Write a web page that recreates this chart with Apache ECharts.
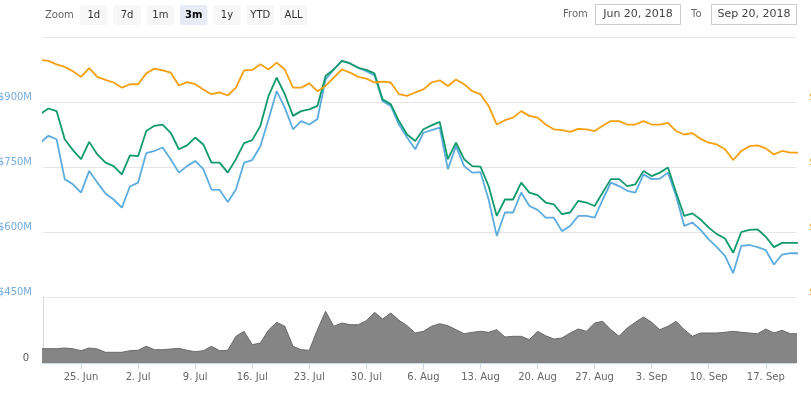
<!DOCTYPE html>
<html><head><meta charset="utf-8">
<script src="https://cdn.jsdelivr.net/npm/echarts@6/dist/echarts.min.js"></script>
<style>html,body{margin:0;padding:0;background:#fff}#c{width:811px;height:394px}</style>
</head><body><div id="c"></div>
<script>
// daily values starting 2018-06-20 (last value = right edge reading)
const startDate = '2018-06-20';
const orange = [997,995,987,981,971,958,978,958,951,945,933,941,941,966,977,973,968,938,946,941,929,918,922,915,933,973,974,987,975,991,975,933,933,943,925,937,956,975,968,958,954,945,947,945,918,914,922,929,945,950,937,952,941,925,918,891,848,858,864,879,868,864,848,837,835,831,838,837,833,845,856,856,848,848,856,848,848,852,833,825,828,815,806,802,791,766,787,798,800,793,779,787,783,783];
const green = [872,885,879,814,789,768,808,779,760,752,733,777,775,833,845,848,829,791,800,818,802,760,760,737,768,805,812,845,914,956,918,868,879,883,891,960,975,995,989,979,974,966,906,895,856,825,810,837,846,854,768,806,768,752,751,706,637,675,675,714,691,685,668,664,641,645,672,668,660,691,722,722,706,710,741,729,737,749,691,637,643,629,610,595,585,552,600,605,606,589,565,575,575,575];
const blue = [806,822,814,722,710,691,741,714,689,675,656,705,714,782,787,795,768,737,752,764,745,698,697,669,698,760,766,798,860,925,887,837,856,848,861,952,975,995,989,979,971,961,902,891,848,818,791,829,835,841,745,798,752,737,738,675,591,645,645,691,660,651,633,633,602,614,637,637,633,675,714,706,695,691,733,722,723,737,683,614,622,605,583,565,545,505,568,570,565,558,525,548,551,551];
const volume = [14.3,14.3,14.3,15,14.3,12.3,15,14,10.7,10.7,10.7,12.3,12.7,16.7,13.3,13.3,14,14.7,12.7,11.3,12.3,16.7,12.3,12.7,26.7,31.7,18.3,20,33,40.7,36.7,16.7,13.3,12.7,33.3,51.7,36.7,40,38.3,38.3,42.3,50.7,44,50,42.7,37.3,30,31.7,36.7,39.3,37.3,33.3,29.3,30.7,31.7,30.7,33.3,26,26.7,26.7,23.3,31.7,27.3,24,25,30,34,31.7,40,41.7,33.3,26.7,35,40.7,46,40.7,33.3,36.7,41.7,33.3,26.7,30,30,30,30.7,31.7,30.7,30,29.3,34,30,32.7,29.3,29.3];
const tickDates = ['2018-06-25','2018-07-02','2018-07-09','2018-07-16','2018-07-23','2018-07-30','2018-08-06','2018-08-13','2018-08-20','2018-08-27','2018-09-03','2018-09-10','2018-09-17'];
const tickLabels = ['25. Jun','2. Jul','9. Jul','16. Jul','23. Jul','30. Jul','6. Aug','13. Aug','20. Aug','27. Aug','3. Sep','10. Sep','17. Sep'];
const priceTicks = [450, 600, 750, 900, 1050];
const zoomButtons = ['1d','7d','1m','3m','1y','YTD','ALL'];
const selectedButton = '3m';
const fromText = 'Jun 20, 2018';
const toText = 'Sep 20, 2018';

const DAY = 86400000;
const t0 = Date.parse(startDate);
const xMin = t0 + 8 * 3600000;
const xMax = Date.parse('2018-09-20') + 17 * 3600000;
const pairs = arr => arr.map((v, i) => [t0 + i * DAY, v]);
const tickTs = tickDates.map(d => Date.parse(d));
const FONT = 'DejaVu Sans';

const graphic = [
  {type:'text', x:45, y:15, style:{text:'Zoom', fill:'#666', font:'10px "DejaVu Sans"', verticalAlign:'middle'}}
];
zoomButtons.forEach((b, i) => {
  const x = 80 + i * 33.3;
  const sel = b === selectedButton;
  graphic.push({type:'rect', shape:{x:x, y:5, width:27.5, height:20, r:2}, style:{fill: sel ? '#e6ebf5' : '#f7f7f7'}});
  graphic.push({type:'text', x:x + 13.75, y:15, style:{text:b, fill: sel ? '#000' : '#333', font:(sel ? 'bold ' : '') + '10px "DejaVu Sans"', align:'center', verticalAlign:'middle'}});
});
graphic.push({type:'text', x:563, y:14.5, style:{text:'From', fill:'#666', font:'10px "DejaVu Sans"', verticalAlign:'middle'}});
graphic.push({type:'rect', shape:{x:595.5, y:4.5, width:85, height:20}, style:{fill:'#fff', stroke:'#ccc', lineWidth:1}});
graphic.push({type:'text', x:638, y:14.5, style:{text:fromText, fill:'#444', font:'11px "DejaVu Sans"', align:'center', verticalAlign:'middle'}});
graphic.push({type:'text', x:691, y:14.5, style:{text:'To', fill:'#666', font:'10px "DejaVu Sans"', verticalAlign:'middle'}});
graphic.push({type:'rect', shape:{x:711.5, y:4.5, width:85, height:20}, style:{fill:'#fff', stroke:'#ccc', lineWidth:1}});
graphic.push({type:'text', x:754, y:14.5, style:{text:toText, fill:'#444', font:'11px "DejaVu Sans"', align:'center', verticalAlign:'middle'}});

const chart = echarts.init(document.getElementById('c'), null, {renderer:'canvas'});
chart.setOption({
  animation:false,
  backgroundColor:'#fff',
  graphic: graphic,
  grid:[
    {left:43, right:15, top:37, height:260, containLabel:false, outerBoundsMode:'none'},
    {left:43, right:15, top:297, height:66, containLabel:false, outerBoundsMode:'none'}
  ],
  xAxis:[
    {type:'value', gridIndex:0, min:xMin, max:xMax, show:false, splitLine:{show:false}},
    {type:'value', gridIndex:1, min:xMin, max:xMax,
     axisLine:{show:true, lineStyle:{color:'#ccd6eb', width:1}},
     axisTick:{show:true, customValues:tickTs, length:6, lineStyle:{color:'#ccd6eb'}},
     axisLabel:{customValues:tickTs, formatter:(v)=>{const k=tickTs.indexOf(v); return k>=0?tickLabels[k]:'';}, color:'#666', fontSize:10, fontFamily:FONT, margin:9},
     splitLine:{show:false}}
  ],
  yAxis:[
    {type:'value', gridIndex:0, min:priceTicks[0], max:priceTicks[priceTicks.length-1], interval:150, position:'left',
     axisLine:{show:false}, axisTick:{show:false},
     axisLabel:{formatter:v=> v>=1050 ? '' : '$'+v+'M', color:'#74acdf', fontSize:10, fontFamily:FONT, margin:11, verticalAlign:'bottom', lineHeight:10},
     splitLine:{show:true, lineStyle:{color:'#e6e6e6', width:1}}},
    {type:'value', gridIndex:0, min:priceTicks[0], max:priceTicks[priceTicks.length-1], interval:150, position:'right',
     axisLine:{show:false}, axisTick:{show:false},
     axisLabel:{formatter:v=> v>=1050 ? '' : '$'+v+'M', color:'#f5a00f', fontSize:10, fontFamily:FONT, margin:13, verticalAlign:'bottom', lineHeight:10},
     splitLine:{show:false}},
    {type:'value', gridIndex:1, min:0, max:66, interval:66, position:'left',
     axisLine:{show:true, lineStyle:{color:'#d8d8d8'}}, axisTick:{show:false},
     axisLabel:{formatter:v=> v===0 ? '0' : '', color:'#555', fontSize:10, fontFamily:FONT, margin:14, verticalAlign:'bottom', lineHeight:10},
     splitLine:{show:false}}
  ],
  series:[
    {type:'line', name:'Volume', xAxisIndex:1, yAxisIndex:2, data:pairs(volume), symbol:'none',
     lineStyle:{color:'#6a6a6a', width:1}, areaStyle:{color:'#858585', opacity:1}},
    {type:'line', name:'Blue', xAxisIndex:0, yAxisIndex:0, data:pairs(blue), symbol:'none', lineStyle:{color:'#5cacdf', width:1.8}},
    {type:'line', name:'Green', xAxisIndex:0, yAxisIndex:0, data:pairs(green), symbol:'none', lineStyle:{color:'#109a6e', width:1.8}},
    {type:'line', name:'Orange', xAxisIndex:0, yAxisIndex:0, data:pairs(orange), symbol:'none', lineStyle:{color:'#f5a00f', width:1.8}}
  ]
});
</script></body></html>
